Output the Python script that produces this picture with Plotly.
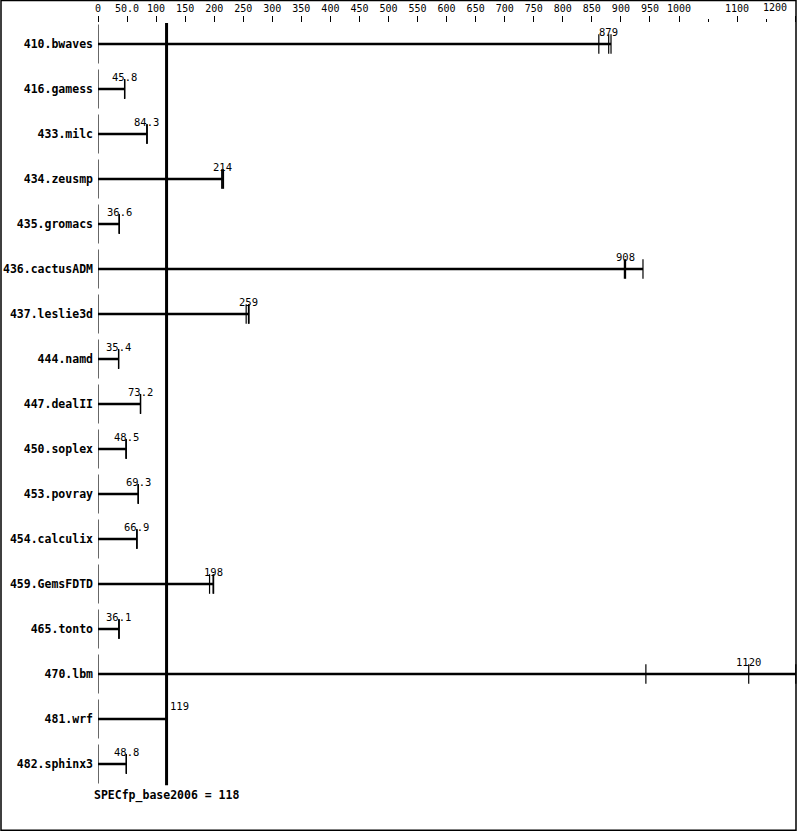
import plotly.graph_objects as go

# benchmark names, top to bottom
benchmarks = ["410.bwaves", "416.gamess", "433.milc", "434.zeusmp", "435.gromacs",
              "436.cactusADM", "437.leslie3d", "444.namd", "447.dealII", "450.soplex",
              "453.povray", "454.calculix", "459.GemsFDTD", "465.tonto", "470.lbm",
              "481.wrf", "482.sphinx3"]

# ratio of each of the three runs
runs = [
    [862, 879, 883],
    [45.7, 45.8, 45.9],
    [84.1, 84.3, 84.5],
    [213, 214, 216],
    [36.5, 36.6, 36.7],
    [906, 908, 938],
    [255, 259, 260],
    [35.3, 35.4, 35.5],
    [73.0, 73.2, 73.3],
    [48.3, 48.5, 48.6],
    [69.2, 69.3, 69.4],
    [66.8, 66.9, 67.0],
    [192, 198, 199],
    [36.0, 36.1, 36.2],
    [943, 1120, 1201],
    [118.8, 119, 119.2],
    [48.7, 48.8, 48.9],
]
median_labels = ["879", "45.8", "84.3", "214", "36.6", "908", "259", "35.4", "73.2",
                 "48.5", "69.3", "66.9", "198", "36.1", "1120", "119", "48.8"]
medians = [879, 45.8, 84.3, 214, 36.6, 908, 259, 35.4, 73.2, 48.5, 69.3, 66.9, 198,
           36.1, 1120, 119, 48.8]

base_score = 118
tick_vals = [0, 50, 100, 150, 200, 250, 300, 350, 400, 450, 500, 550, 600, 650, 700,
             750, 800, 850, 900, 950, 1000, 1100, 1200]
tick_text = ["0", "50.0", "100", "150", "200", "250", "300", "350", "400", "450", "500",
             "550", "600", "650", "700", "750", "800", "850", "900", "950", "1000",
             "1100", "1200"]
minor_vals = [1050, 1150]

MONO = "DejaVu Sans Mono"
rows = list(range(len(benchmarks)))

fig = go.Figure()

# bars: line from 0 to the highest run
for i, r in enumerate(runs):
    fig.add_trace(go.Scatter(x=[0, max(r)], y=[i, i], mode="lines",
                             line=dict(color="black", width=2.5),
                             hoverinfo="skip", showlegend=False))

# small ticks at each run
fig.add_trace(go.Scatter(
    x=[v for r in runs for v in r],
    y=[i for i, r in enumerate(runs) for _ in r],
    mode="markers",
    marker=dict(symbol="line-ns", size=14, line=dict(color="black", width=1.2)),
    hoverinfo="skip", showlegend=False))

# zero ticks
fig.add_trace(go.Scatter(
    x=[0] * len(rows), y=rows, mode="markers",
    marker=dict(symbol="line-ns", size=28, line=dict(color="black", width=1.2)),
    hoverinfo="skip", showlegend=False))

# median labels
for i, (m, t) in enumerate(zip(medians, median_labels)):
    if benchmarks[i] == "481.wrf":
        fig.add_annotation(x=m, y=i, text=t, showarrow=False, xanchor="left",
                           xshift=1, yshift=13, font=dict(family=MONO, size=10.5, color="black"))
    else:
        fig.add_annotation(x=m, y=i, text=t, showarrow=False, xanchor="center",
                           yshift=12, font=dict(family=MONO, size=10.5, color="black"))

# base score line
fig.add_shape(type="line", x0=base_score, x1=base_score, y0=-0.49, y1=16.47,
              xref="x", yref="y", line=dict(color="black", width=3))
fig.add_annotation(x=base_score, y=16.69, text="<b>SPECfp_base2006 = %d</b>" % base_score,
                   showarrow=False, xanchor="center",
                   font=dict(family=MONO, size=11.5, color="black"))

# border
fig.add_shape(type="rect", xref="paper", yref="paper", x0=-97 / 701, x1=698 / 701,
              y0=0.001, y1=1 + 22.5 / 808, line=dict(color="black", width=1.5))

# last label sits left of its tick so it stays inside the frame
fig.add_annotation(x=tick_vals[-1], y=1, xref="x", yref="paper", text=tick_text[-1],
                   showarrow=False, xanchor="right", yanchor="middle",
                   xshift=-6, yshift=16, font=dict(family=MONO, size=10, color="black"))
top_text = tick_text[:-1] + [""]

fig.update_layout(
    width=799, height=831,
    margin=dict(l=98, r=0, t=23, b=0),
    paper_bgcolor="white", plot_bgcolor="white",
    showlegend=False,
    xaxis=dict(range=[0, 701 / 0.581], side="top", showgrid=False, zeroline=False,
               showline=False, tickmode="array", tickvals=tick_vals, ticktext=top_text,
               ticks="outside", ticklen=6, tickwidth=1, tickcolor="black",
               tickfont=dict(family=MONO, size=10, color="black"),
               minor=dict(tickvals=minor_vals, ticks="outside", ticklen=3,
                          tickcolor="black", tickwidth=1)),
    yaxis=dict(range=[-0.4667 + 808 / 45, -0.4667], showgrid=False, zeroline=False,
               showline=False, tickmode="array", tickvals=rows,
               ticktext=["<b>%s</b>" % b for b in benchmarks],
               ticks="", ticklabelstandoff=4,
               tickfont=dict(family=MONO, size=11.5, color="black")),
)

fig.write_html("out.html", config={"displayModeBar": False},
               post_script="document.body.style.margin='0px';document.body.style.overflow='hidden';")
